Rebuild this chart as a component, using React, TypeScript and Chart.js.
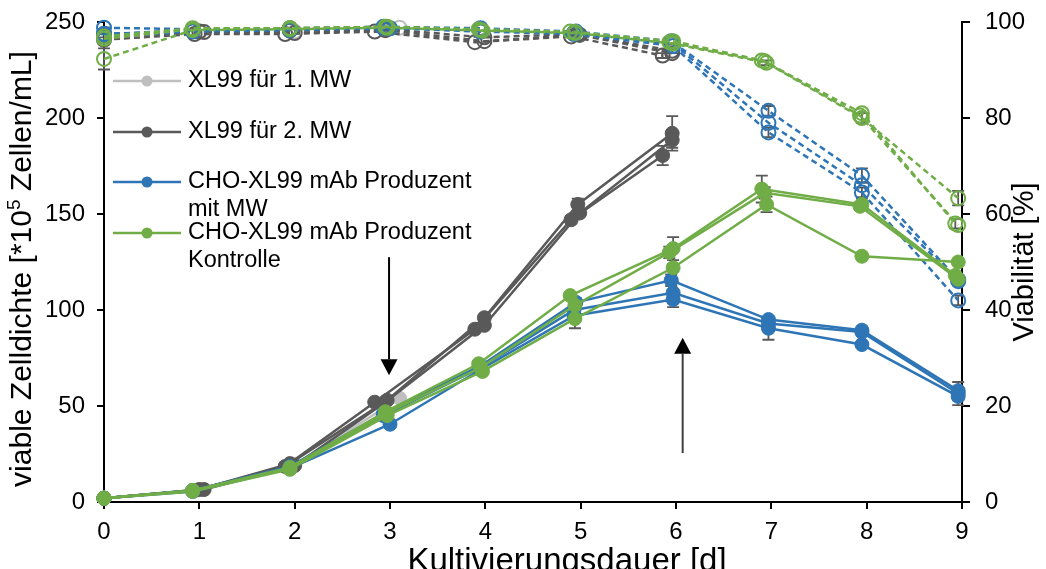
import { useEffect, useRef } from "react";
import { Chart, registerables } from "chart.js";

Chart.register(...registerables);

const FONT = '"Liberation Sans", Arial, sans-serif';

const COLOR_XL1 = "#BFBFBF";
const COLOR_XL2 = "#595959";
const COLOR_MW = "#2E75B6";
const COLOR_CTRL = "#70AD47";
const COLOR_ERR = "#595959";

const xTicks = [0, 1, 2, 3, 4, 5, 6, 7, 8, 9];
const densityTicks = [0, 50, 100, 150, 200, 250];
const viabilityTicks = [0, 20, 40, 60, 80, 100];

// XL99 für 1. MW (one culture, harvested on day 3)
const xl1Days = [0, 1.0, 2.0, 3.1];
const xl1Density = [2, 6.5, 19.5, 54];
const xl1Viability = [97.5, 98, 98, 98.8];

// XL99 für 2. MW (three cultures, harvested on day 6)
const xl2Days = [
  [0, 1.0, 1.95, 2.97, 3.99, 4.97, 5.96],
  [0, 1.05, 2.0, 2.95, 3.99, 4.99, 5.96],
  [0, 0.95, 1.9, 2.84, 3.89, 4.9, 5.86],
];
const xl2Density = [
  [2, 6.5, 20, 53, 96, 155, 192],
  [2, 6.5, 19, 52, 92, 150.5, 188.5],
  [2, 6, 18.5, 52, 90, 147, 180.5],
];
const xl2DensityErr = [
  [0, 0, 0, 0, 1.5, 3, 9],
  [0, 0, 0, 0, 0, 0, 4],
  [0, 0, 0, 0, 1, 2, 5],
];
const xl2Viability = [
  [97.5, 98, 98.2, 98.5, 96.8, 97.5, 94],
  [97, 97.9, 97.7, 98.3, 96, 97.3, 93.5],
  [96.3, 97.5, 97.5, 98, 95.8, 97, 93],
];
const xl2ViabilityErr = [
  [0, 0, 0, 0, 0, 0, 0.5],
  [0, 0, 0, 0, 0, 0, 0],
  [0.5, 0, 0, 0, 0, 0, 0.5],
];

// CHO-XL99 mAb Produzent mit MW (three cultures)
const mwDays = [
  [0, 0.93, 1.95, 2.93, 3.95, 4.95, 5.95, 6.97, 7.95, 8.96],
  [0, 0.93, 1.95, 2.93, 3.95, 4.93, 5.97, 6.97, 7.95, 8.96],
  [0, 0.93, 1.95, 3.0, 3.95, 4.93, 5.97, 6.97, 7.95, 8.96],
];
const mwDensity = [
  [2, 6, 18.5, 46, 71, 104, 115.5, 95, 89.5, 58],
  [2, 6, 18, 45, 70, 100, 109, 93, 88.5, 56.5],
  [2, 5.5, 17.5, 40.5, 69, 97, 105.5, 90.5, 82, 55],
];
const mwDensityErr = [
  [0, 0, 0, 0, 0, 2, 3, 0, 0, 0],
  [0, 0, 0, 0, 0, 0, 5.5, 2, 1, 6],
  [0, 0, 0, 0, 1, 2, 4, 6, 1, 2],
];
const mwViability = [
  [98.8, 98.5, 98.7, 99, 98.7, 98, 96, 81.5, 68, 46.3],
  [97.5, 98.3, 98.5, 98.8, 98.3, 97.8, 95.5, 79, 66, 46],
  [97, 98, 98.3, 98.7, 98, 97.5, 95, 77, 64.5, 42],
];
const mwViabilityErr = [
  [0, 0, 0, 0, 0, 0, 0, 1, 1.5, 1],
  [0, 0, 0, 0, 0, 0, 0, 0, 0, 0],
  [0, 0, 0, 0, 0, 0, 0, 1, 1, 1],
];

// CHO-XL99 mAb Produzent Kontrolle (three cultures)
const ctrlDays = [
  [0, 0.93, 1.95, 2.95, 3.93, 4.89, 5.97, 6.9, 7.95, 8.93],
  [0, 0.93, 1.95, 2.97, 3.95, 4.94, 5.93, 6.93, 7.93, 8.96],
  [0, 0.93, 1.95, 2.97, 3.97, 4.94, 5.97, 6.95, 7.95, 8.96],
];
const ctrlDensity = [
  [2, 6, 18, 47, 72, 107.5, 132, 163, 155, 118],
  [2, 6, 17.5, 46.5, 70, 102.5, 130, 161, 154, 116],
  [2, 5.5, 17, 45, 68, 95.5, 122, 155, 128, 125],
];
const ctrlDensityErr = [
  [0, 0, 0, 0, 0, 0, 6, 7, 3, 0],
  [0, 0, 0, 0, 0, 2, 3, 3, 2, 2],
  [0, 0, 0, 0, 0, 5, 2, 4, 1, 0],
];
const ctrlViability = [
  [97, 98.7, 98.7, 99, 98.5, 98, 96, 92, 81, 58],
  [96.5, 98.5, 98.7, 99, 98.3, 97.9, 95.8, 91.8, 80.5, 57.7],
  [92.3, 98.3, 98.5, 98.8, 98.2, 97.7, 95.5, 91.5, 80, 63.3],
];
const ctrlViabilityErr = [
  [0, 0, 0, 0, 0, 0, 0, 0, 0, 1],
  [0, 0, 0, 0, 0, 0, 0, 0, 0, 0],
  [2.2, 0, 0, 0, 0, 0, 0, 0.5, 1, 1.5],
];

const legendLabels = [
  ["XL99 für 1. MW"],
  ["XL99 für 2. MW"],
  ["CHO-XL99 mAb Produzent", "mit MW"],
  ["CHO-XL99 mAb Produzent", "Kontrolle"],
];
const legendColors = [COLOR_XL1, COLOR_XL2, COLOR_MW, COLOR_CTRL];

// Medium change markers: day and density range (start, tip) of each arrow
const arrowDays = [2.99, 6.07];
const arrowFrom = [127.5, 25.5];
const arrowTo = [66, 85.5];
const arrowColors = ["#000000", "#404040"];

const yTitleParts = ["viable Zelldichte [*10", "5", " Zellen/mL]"];
const y2Title = "Viabilität [%]";
const xTitle = "Kultivierungsdauer [d]";

function points(xs: number[], ys: number[]) {
  return xs.map((x, i) => ({ x, y: ys[i] }));
}

function densitySet(xs: number[], ys: number[], errs: number[] | null, color: string) {
  return {
    data: points(xs, ys),
    errors: errs,
    yAxisID: "y",
    borderColor: color,
    backgroundColor: color,
    borderWidth: 2.5,
    pointRadius: 7,
    pointBorderWidth: 1,
    pointBorderColor: color,
    pointBackgroundColor: color,
    tension: 0,
    clip: false,
  };
}

function viabilitySet(xs: number[], ys: number[], errs: number[] | null, color: string) {
  return {
    data: points(xs, ys),
    errors: errs,
    yAxisID: "y2",
    borderColor: color,
    backgroundColor: "rgba(0,0,0,0)",
    borderWidth: 2.5,
    borderDash: [6, 4],
    pointRadius: 7,
    pointBorderWidth: 2,
    pointBorderColor: color,
    pointBackgroundColor: "rgba(0,0,0,0)",
    tension: 0,
    clip: false,
  };
}

const errorBarsPlugin = {
  id: "errorBars",
  beforeDatasetsDraw(chart: any) {
    const ctx = chart.ctx;
    ctx.save();
    ctx.strokeStyle = COLOR_ERR;
    ctx.lineWidth = 1.8;
    chart.data.datasets.forEach((ds: any, i: number) => {
      if (!ds.errors) return;
      const meta = chart.getDatasetMeta(i);
      const ys = chart.scales[ds.yAxisID];
      meta.data.forEach((el: any, j: number) => {
        const e = ds.errors[j];
        if (!e) return;
        const v = ds.data[j].y;
        const top = ys.getPixelForValue(v + e);
        const bot = ys.getPixelForValue(v - e);
        const x = el.x;
        ctx.beginPath();
        ctx.moveTo(x, top);
        ctx.lineTo(x, bot);
        ctx.moveTo(x - 6, top);
        ctx.lineTo(x + 6, top);
        ctx.moveTo(x - 6, bot);
        ctx.lineTo(x + 6, bot);
        ctx.stroke();
      });
    });
    ctx.restore();
  },
};

const arrowsPlugin = {
  id: "arrows",
  afterDatasetsDraw(chart: any) {
    const ctx = chart.ctx;
    const xs = chart.scales.x;
    const ys = chart.scales.y;
    ctx.save();
    arrowDays.forEach((d, i) => {
      const x = xs.getPixelForValue(d);
      const y0 = ys.getPixelForValue(arrowFrom[i]);
      const y1 = ys.getPixelForValue(arrowTo[i]);
      const dir = y1 > y0 ? 1 : -1;
      const headLen = 16;
      const headHalf = 8.5;
      ctx.strokeStyle = arrowColors[i];
      ctx.lineWidth = 2;
      ctx.beginPath();
      ctx.moveTo(x, y0);
      ctx.lineTo(x, y1 - dir * headLen);
      ctx.stroke();
      ctx.fillStyle = "#000000";
      ctx.beginPath();
      ctx.moveTo(x, y1);
      ctx.lineTo(x - headHalf, y1 - dir * headLen);
      ctx.lineTo(x + headHalf, y1 - dir * headLen);
      ctx.closePath();
      ctx.fill();
    });
    ctx.restore();
  },
};

const legendPlugin = {
  id: "insideLegend",
  afterDraw(chart: any) {
    const ctx = chart.ctx;
    const rowY = [81, 132, 182, 233];
    const lineH = 28;
    ctx.save();
    ctx.font = `23.5px ${FONT}`;
    ctx.textBaseline = "middle";
    ctx.textAlign = "left";
    legendLabels.forEach((lines, i) => {
      const y = rowY[i];
      ctx.strokeStyle = legendColors[i];
      ctx.lineWidth = 2.5;
      ctx.beginPath();
      ctx.moveTo(113, y);
      ctx.lineTo(181, y);
      ctx.stroke();
      ctx.fillStyle = legendColors[i];
      ctx.beginPath();
      ctx.arc(147, y, 5.5, 0, Math.PI * 2);
      ctx.fill();
      ctx.fillStyle = "#000000";
      lines.forEach((t, k) => ctx.fillText(t, 188, y + k * lineH));
    });
    ctx.restore();
  },
};

const titlesPlugin = {
  id: "axisTitles",
  afterDraw(chart: any) {
    const ctx = chart.ctx;
    const area = chart.chartArea;
    const size = 30;
    const supSize = 19;
    ctx.save();
    ctx.fillStyle = "#000000";
    ctx.textBaseline = "middle";

    // left title, bottom-to-top, with superscript exponent
    ctx.save();
    ctx.translate(23, (area.top + area.bottom) / 2 + 7);
    ctx.rotate(-Math.PI / 2);
    ctx.font = `${size}px ${FONT}`;
    const w0 = ctx.measureText(yTitleParts[0]).width;
    const w2 = ctx.measureText(yTitleParts[2]).width;
    ctx.font = `${supSize}px ${FONT}`;
    const w1 = ctx.measureText(yTitleParts[1]).width;
    let cx = -(w0 + w1 + w2) / 2;
    ctx.textAlign = "left";
    ctx.font = `${size}px ${FONT}`;
    ctx.fillText(yTitleParts[0], cx, 0);
    cx += w0;
    ctx.font = `${supSize}px ${FONT}`;
    ctx.fillText(yTitleParts[1], cx, -8);
    cx += w1;
    ctx.font = `${size}px ${FONT}`;
    ctx.fillText(yTitleParts[2], cx, 0);
    ctx.restore();

    // right title, also bottom-to-top
    ctx.save();
    ctx.translate(1025, (area.top + area.bottom) / 2);
    ctx.rotate(-Math.PI / 2);
    ctx.font = `29px ${FONT}`;
    ctx.textAlign = "center";
    ctx.fillText(y2Title, 0, 0);
    ctx.restore();

    // bottom title
    ctx.font = `33px ${FONT}`;
    ctx.textAlign = "center";
    ctx.textBaseline = "alphabetic";
    ctx.fillText(xTitle, 567, 571);
    ctx.restore();
  },
};

export default function App() {
  const canvasRef = useRef<HTMLCanvasElement | null>(null);

  useEffect(() => {
    const canvas = canvasRef.current;
    if (!canvas) return;

    const datasets: any[] = [];
    ctrlDays.forEach((xs, i) => datasets.push(densitySet(xs, ctrlDensity[i], ctrlDensityErr[i], COLOR_CTRL)));
    mwDays.forEach((xs, i) => datasets.push(densitySet(xs, mwDensity[i], mwDensityErr[i], COLOR_MW)));
    xl2Days.forEach((xs, i) => datasets.push(densitySet(xs, xl2Density[i], xl2DensityErr[i], COLOR_XL2)));
    datasets.push(densitySet(xl1Days, xl1Density, null, COLOR_XL1));
    ctrlDays.forEach((xs, i) => datasets.push(viabilitySet(xs, ctrlViability[i], ctrlViabilityErr[i], COLOR_CTRL)));
    mwDays.forEach((xs, i) => datasets.push(viabilitySet(xs, mwViability[i], mwViabilityErr[i], COLOR_MW)));
    xl2Days.forEach((xs, i) => datasets.push(viabilitySet(xs, xl2Viability[i], xl2ViabilityErr[i], COLOR_XL2)));
    datasets.push(viabilitySet(xl1Days, xl1Viability, null, COLOR_XL1));

    const tickFont = { family: FONT, size: 24 };
    const axisGrid = {
      drawOnChartArea: false,
      drawTicks: true,
      tickLength: 7,
      color: "#000000",
      lineWidth: 2,
    };
    const axisBorder = { display: true, color: "#000000", width: 2 };
    const noEdgePadding = (s: any) => {
      s.paddingTop = 0;
      s.paddingBottom = 0;
    };

    const chart = new Chart(canvas, {
      type: "line",
      data: { datasets },
      options: {
        responsive: false,
        animation: false,
        devicePixelRatio: 1,
        layout: { padding: { top: 22, left: 0, right: 0, bottom: 0 } },
        plugins: { legend: { display: false }, tooltip: { enabled: false } },
        scales: {
          x: {
            type: "linear",
            min: xTicks[0],
            max: xTicks[xTicks.length - 1],
            afterBuildTicks: (s: any) => {
              s.ticks = xTicks.map((v) => ({ value: v }));
            },
            ticks: { font: tickFont, color: "#000000", padding: 9, maxRotation: 0 },
            grid: axisGrid,
            border: axisBorder,
            afterFit: (s: any) => {
              s.height = 67;
              s.paddingLeft = 0;
              s.paddingRight = 0;
            },
          },
          y: {
            type: "linear",
            position: "left",
            min: densityTicks[0],
            max: densityTicks[densityTicks.length - 1],
            afterBuildTicks: (s: any) => {
              s.ticks = densityTicks.map((v) => ({ value: v }));
            },
            ticks: { font: tickFont, color: "#000000", padding: 12 },
            grid: axisGrid,
            border: axisBorder,
            afterFit: (s: any) => {
              s.width = 104;
              noEdgePadding(s);
            },
          },
          y2: {
            type: "linear",
            position: "right",
            min: viabilityTicks[0],
            max: viabilityTicks[viabilityTicks.length - 1],
            afterBuildTicks: (s: any) => {
              s.ticks = viabilityTicks.map((v) => ({ value: v }));
            },
            ticks: { font: tickFont, color: "#000000", padding: 15 },
            grid: { ...axisGrid, tickLength: 8 },
            border: axisBorder,
            afterFit: (s: any) => {
              s.width = 84;
              noEdgePadding(s);
            },
          },
        },
      } as any,
      plugins: [errorBarsPlugin, arrowsPlugin, legendPlugin, titlesPlugin],
    });

    return () => chart.destroy();
  }, []);

  return (
    <div style={{ position: "fixed", left: 0, top: 0, width: 1046, height: 569, background: "#ffffff" }}>
      <canvas ref={canvasRef} width={1046} height={569} />
    </div>
  );
}
